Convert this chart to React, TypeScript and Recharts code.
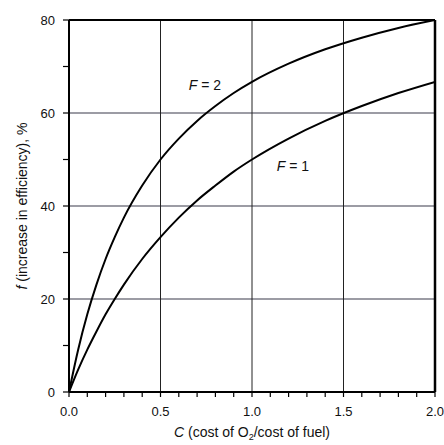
import React from 'react';
import { LineChart, Line, XAxis, YAxis, ReferenceLine, ReferenceDot, Label } from 'recharts';

// C values (cost of O2 / cost of fuel)
const cValues = [0, 0.05, 0.1, 0.15, 0.2, 0.25, 0.3, 0.4, 0.5, 0.6, 0.7, 0.8, 0.9, 1.0, 1.2, 1.4, 1.6, 1.8, 2.0];
// f (increase in efficiency, %) for F = 2
const fF2 = [0, 9.1, 16.7, 23.1, 28.6, 33.3, 37.5, 44.4, 50, 54.5, 58.3, 61.5, 64.3, 66.7, 70.6, 73.7, 76.2, 78.3, 80];
// f for F = 1
const fF1 = [0, 4.8, 9.1, 13.0, 16.7, 20, 23.1, 28.6, 33.3, 37.5, 41.2, 44.4, 47.4, 50, 54.5, 58.3, 61.5, 64.3, 66.7];

const xTicks = [0, 0.1, 0.2, 0.3, 0.4, 0.5, 0.6, 0.7, 0.8, 0.9, 1.0, 1.1, 1.2, 1.3, 1.4, 1.5, 1.6, 1.7, 1.8, 1.9, 2.0];
const yTicks = [0, 10, 20, 30, 40, 50, 60, 70, 80];
const gridX = [0.5, 1.0, 1.5];
const gridY = [20, 40, 60];

const curveLabels = [
  { name: '2', c: 0.743, f: 65.9 },
  { name: '1', c: 1.224, f: 48.6 },
];

const data = cValues.map((c, i) => ({ c, f2: fF2[i], f1: fF1[i] }));

const FONT = '"Liberation Sans", Arial, Helvetica, sans-serif';

const fmtX = (v: number) => (Math.abs(v * 2 - Math.round(v * 2)) < 1e-6 ? v.toFixed(1) : '');
const fmtY = (v: number) => (v % 20 === 0 ? String(v) : '');

const YLabel = (props: any) => {
  const vb = props.viewBox || { x: 0, y: 20, width: 69, height: 372 };
  const cx = vb.x + 22;
  const cy = vb.y + vb.height / 2;
  return (
    <text
      x={cx}
      y={cy}
      transform={`rotate(-90 ${cx} ${cy})`}
      textAnchor="middle"
      dy="0.35em"
      fontFamily={FONT}
      fontSize={14}
      fill="#111"
    >
      <tspan fontStyle="italic">f</tspan>
      <tspan> (increase in efficiency), %</tspan>
    </text>
  );
};

const XLabel = (props: any) => {
  const vb = props.viewBox || { x: 69, y: 392, width: 366, height: 53 };
  const cx = vb.x + vb.width / 2;
  return (
    <text x={cx} y={437} textAnchor="middle" fontFamily={FONT} fontSize={14} fill="#111">
      <tspan fontStyle="italic">C</tspan>
      <tspan> (cost of O</tspan>
      <tspan fontSize={9} dy={3}>2</tspan>
      <tspan dy={-3}>/cost of fuel)</tspan>
    </text>
  );
};

export default function App() {
  return (
    <div style={{ position: 'absolute', left: 0, top: 0, width: 444, height: 445, background: '#fff' }}>
      <LineChart width={444} height={445} data={data} margin={{ top: 20, right: 9, bottom: 0, left: 0 }}>
        {gridY.map((v) => (
          <ReferenceLine key={'gy' + v} y={v} stroke="#3a3a4a" strokeWidth={1.2} />
        ))}
        {gridX.map((v) => (
          <ReferenceLine key={'gx' + v} x={v} stroke="#222" strokeWidth={1} />
        ))}
        <ReferenceLine y={80} stroke="#000" strokeWidth={2} />
        <ReferenceLine x={2.0} stroke="#000" strokeWidth={2.5} />
        <XAxis
          type="number"
          dataKey="c"
          domain={[0, 2]}
          ticks={xTicks}
          interval={0}
          tickFormatter={fmtX}
          height={53}
          axisLine={{ stroke: '#000', strokeWidth: 2 }}
          tickLine={{ stroke: '#000', strokeWidth: 1.2 }}
          tickSize={5}
          tickMargin={10}
          tick={{ fontFamily: FONT, fontSize: 13, fill: '#111' }}
          allowDataOverflow
        >
          <Label content={XLabel} />
        </XAxis>
        <YAxis
          type="number"
          domain={[0, 80]}
          ticks={yTicks}
          interval={0}
          tickFormatter={fmtY}
          width={69}
          axisLine={{ stroke: '#000', strokeWidth: 2 }}
          tickLine={{ stroke: '#000', strokeWidth: 1.2 }}
          tickSize={6}
          tickMargin={8}
          tick={{ fontFamily: FONT, fontSize: 13, fill: '#111' }}
          allowDataOverflow
        >
          <Label content={YLabel} />
        </YAxis>
        <Line type="monotone" dataKey="f2" stroke="#000" strokeWidth={2} dot={false} isAnimationActive={false} />
        <Line type="monotone" dataKey="f1" stroke="#000" strokeWidth={2} dot={false} isAnimationActive={false} />
        {curveLabels.map((l) => (
          <ReferenceDot
            key={l.name}
            x={l.c}
            y={l.f}
            r={0}
            shape={(p: any) => (
              <text x={p.cx} y={p.cy} dy="0.35em" textAnchor="middle" fontFamily={FONT} fontSize={14} fill="#111">
                <tspan fontStyle="italic">F</tspan>
                <tspan> = {l.name}</tspan>
              </text>
            )}
          />
        ))}
      </LineChart>
    </div>
  );
}
